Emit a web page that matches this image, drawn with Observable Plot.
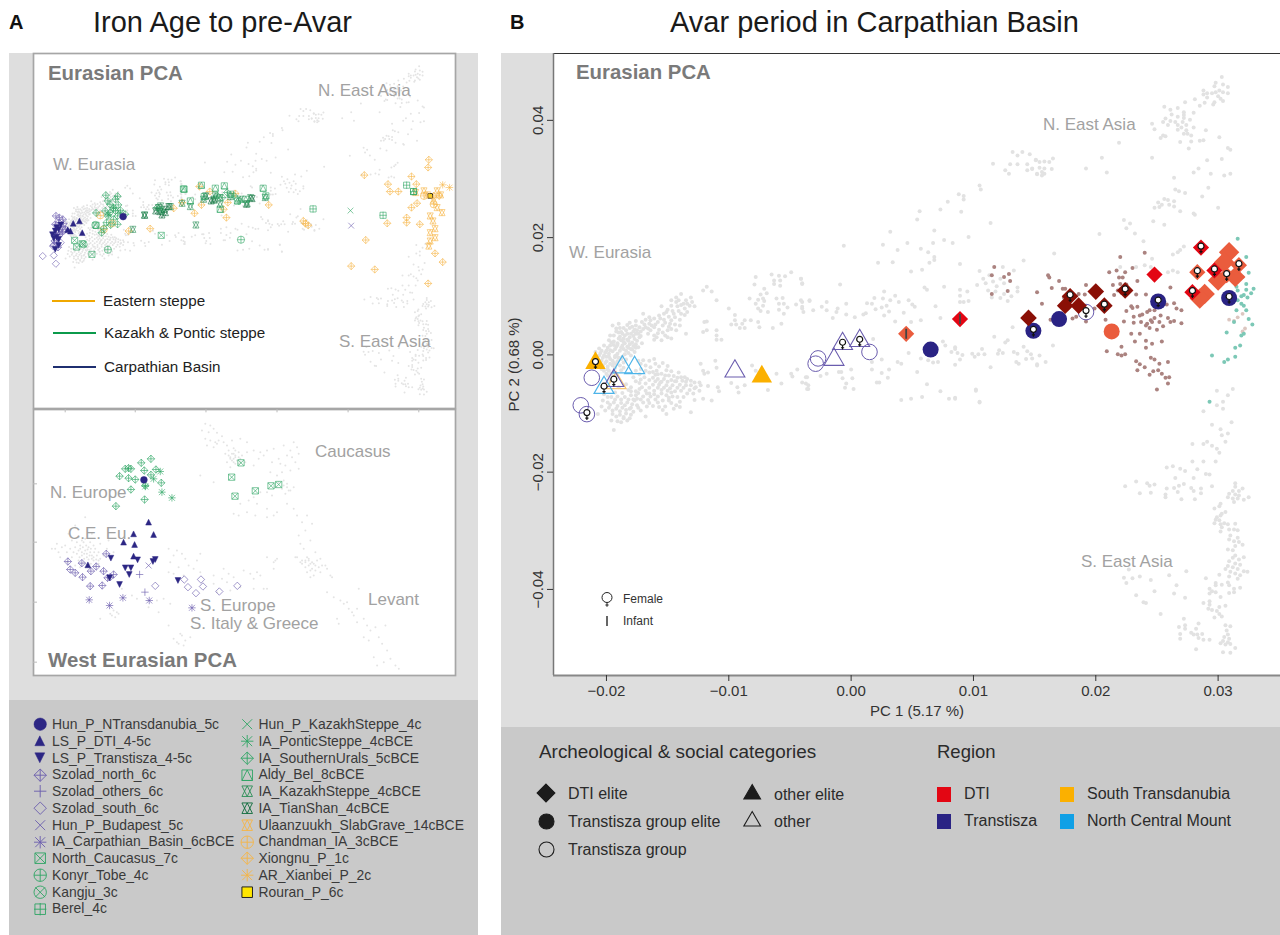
<!DOCTYPE html>
<html><head><meta charset="utf-8">
<script src="https://cdn.jsdelivr.net/npm/d3@7"></script>
<script src="https://cdn.jsdelivr.net/npm/@observablehq/plot@0.6"></script>
<style>
html,body{margin:0;padding:0;background:#fff;font-family:"Liberation Sans",Arial,sans-serif}
#page{position:relative;width:1280px;height:935px;overflow:hidden}
#page>div,#page>figure,#page>svg{position:absolute;margin:0}
.t{white-space:nowrap;line-height:1;transform:translateY(-50%)}
.reg{color:#a2a2a2;font-size:17px}
.bold{color:#7a7a7a;font-weight:bold;font-size:20.4px}
.lg{color:#3a3a3a;font-size:13.9px}
.lb{color:#2b2b2b;font-size:16px}
</style></head><body><div id="page"></div>
<script>
// All PCA values below are PC score x 10^4.
const refWestArm = [[-143,98],[-139,104],[-147,93],[-141,93],[-135,93],[-131,98],[-137,87],[-132,84],[-128,83],[-147,84],[-142,83],[-136,79],[-155,83],[-134,73],[-146,75],[-151,73],[-157,67],[-149,65],[-144,64],[-139,70],[-170,70],[-164,59],[-153,60],[-147,59],[-158,56],[-165,53],[-154,50],[-149,48],[-144,52],[-161,47],[-157,43],[-150,42],[-168,47],[-164,42],[-170,44],[-135,36],[-155,25],[-161,33],[-150,30],[-166,36],[-161,26],[-121,110],[-118,116],[-114,108],[-110,93],
[-195,50],[-190,53],[-189,46],[-184,42],[-188,39],[-181,46],[-177,43],[-173,47],[-194,33],[-189,31],[-185,33],[-180,36],[-174,36],[-198,25],[-194,23],[-188,25],[-183,26],[-177,27],[-173,30],[-202,16],[-197,16],[-192,14],[-187,16],[-181,18],[-176,18],[-204,7],[-200,7],[-195,6],[-189,7],[-184,7],[-179,9],[-176,12],[-206,-1],[-202,-1],[-198,-3],[-192,-1],[-187,-3],[-204,-10],[-200,-11],[-195,-10],[-191,-11],[-203,-18],[-199,-20],[-195,-18],[-202,-27],[-198,-27],[-194,-30],[-199,-35],[-195,-38],[-186,22],[-192,40],[-182,12],[-200,-3],[-193,-4],[-186,10],[-178,32],[-191,20],[-197,8]];
const refWestDense = [[-205,3],[-203,-5],[-201,4],[-199,12],[-198,2],[-197,-7],[-196,21],[-194,-14],[-193,10],[-193,-2],[-191,17],[-191,2],[-190,-5],[-190,28],[-188,12],[-188,-7],[-187,36],[-186,-13],[-186,28],[-185,1],[-185,20],[-184,-8],[-183,36],[-183,14],[-182,3],[-182,24],[-181,30],[-180,10],[-180,-1],[-179,21],[-178,40],[-178,15],[-177,5],[-176,36],[-175,24],[-175,42],[-174,13],[-172,32],[-172,40],[-171,20],[-197,33],[-192,45],[-186,46],[-183,51],[-179,48],[-176,50],[-201,-14],[-199,-25],[-197,-15],[-196,-32],[-193,-22],[-192,-16],[-200,-32],[-204,-24],[-189,-18],[-188,-26],[-186,-22],[-197,-43],[-192,-35],[-206,11],[-208,-8],[-209,5],[-194,17],[-190,38],[-181,55],[-171,56],[-176,58],
[-168,60],[-165,64],[-161,62],[-160,52],[-156,62],[-153,70],[-152,55],[-150,77],[-148,53],[-145,70],[-143,90],[-141,75],[-140,60],[-139,85],[-136,68],[-134,87],[-130,90],[-158,37],[-154,38],[-147,44],[-143,42],[-152,33],[-163,50],[-166,45],[-159,30],[-147,28],[-140,50],[-169,52]];
const refWestLobe = [[-174,-10],[-170,-9],[-165,-10],[-161,-7],[-168,-18],[-164,-21],[-172,-24],[-165,-30],[-159,-27],[-151,-26],[-155,-32],[-149,-35],[-169,-38],[-162,-39],[-158,-41],[-153,-41],[-147,-43],[-142,-39],[-138,-44],[-134,-41],[-173,-48],[-168,-49],[-162,-51],[-157,-51],[-151,-52],[-146,-52],[-140,-51],[-135,-52],[-173,-58],[-168,-61],[-161,-61],[-155,-60],[-150,-61],[-144,-62],[-139,-61],[-132,-60],[-176,-69],[-170,-71],[-164,-71],[-158,-71],[-151,-69],[-146,-71],[-170,-81],[-165,-82],[-158,-81],[-149,-78],[-143,-86],[-140,-89],[-154,-94],[-151,-101],[-131,-98],[-168,-105],[-196,-72],[-191,-71],[-185,-72],[-180,-69],[-199,-81],[-194,-81],[-188,-82],[-183,-81],[-179,-84],[-198,-90],[-192,-92],[-187,-90],[-181,-92],[-195,-101],[-189,-102],[-184,-100],[-180,-102],[-196,-112],[-188,-115],[-194,-128],[-207,-101],[-204,-88],[-202,-67],[-190,-55],[-182,-60],[-176,-45],[-160,-45],[-155,-46],[-165,-66],[-148,-57],[-143,-45],[-178,-76],[-174,-90],[-186,-108],
[-172,-15],[-168,-27],[-160,-15],[-157,-20],[-154,-14],[-150,-19],[-158,-33],[-162,-29],[-147,-28],[-145,-36],[-141,-30],[-152,-35],[-173,-33],[-176,-27],[-178,-38],[-172,-42],[-165,-43],[-160,-34],[-156,-47],[-150,-46],[-144,-45],[-139,-38],[-135,-46],[-131,-44],[-128,-57],[-171,-55],[-165,-56],[-158,-56],[-153,-56],[-147,-64],[-142,-56],[-137,-56],[-134,-66],[-129,-66],[-174,-65],[-167,-66],[-161,-67],[-155,-66],[-149,-73],[-142,-72],[-137,-72],[-172,-76],[-166,-77],[-160,-76],[-154,-78],[-147,-82],[-140,-80],[-167,-88],[-162,-87],[-157,-89],[-152,-88],[-145,-92],[-176,-62],[-180,-55],[-184,-50],[-172,-95],
[-193,-76],[-188,-76],[-182,-76],[-177,-78],[-197,-85],[-191,-87],[-185,-86],[-180,-90],[-175,-86],[-195,-95],[-189,-96],[-184,-94],[-178,-97],[-192,-105],[-186,-106],[-181,-108],[-193,-64],[-187,-65],[-180,-62],[-175,-75],[-199,-72],[-203,-78],[-201,-95],[-191,-113],[-183,-112]];
const refBridge = [[-136,-38],[-131,-52],[-128,-47],[-124,-47],[-127,-55],[-123,-52],[-121,-75],[-128,-77],[-114,-78],[-124,-61],[-117,-53],[-109,-55],[-108,-62],[-123,-15],[-121,-27],[-120,-32],[-117,-30],[-111,-10],[-110,-22],[-98,-48],[-93,-55],[-92,-64],[-87,-52],[-81,-18],[-78,-27],[-68,-60],[-61,-32],[-57,-49],[-49,-32],[-48,-37],[-44,-25],[-40,-47],[-35,-52],[-35,-58],[-36,-38],
[-120,56],[-118,57],[-121,39],[-118,42],[-110,42],[-110,33],[-110,26],[-106,26],[-100,79],[-95,68],[-95,59],[-98,52],[-94,52],[-87,59],[-89,53],[-91,46],[-87,46],[-82,59],[-76,56],[-75,47],[-64,46],[-57,53],
[-78,133],[-79,120],[-83,96],[-71,113],[-69,105],[-74,103],[-72,96],[-76,94],[-71,92],[-78,87],[-72,84],[-76,79],[-74,75],[-68,73],[-61,96],[-56,97],[-59,87],[-55,87],[-59,77],[-55,70],[-52,81],[-65,137],[-63,127],[-63,121],[-59,135],[-58,127],[-58,118],[-54,134],[-49,141],[-41,130],[-40,122],[-45,86],[-40,79],[-41,93],[-34,92]];
const refCentral = [[132,346],[136,340],[140,346],[146,342],[151,332],[130,325],[136,325],[144,325],[148,318],[144,315],[126,315],[129,309],[152,309],[116,326],[105,289],[106,282],[88,274],[92,271],[92,265],[79,261],[73,248],[56,245],[54,231],[90,244],[114,225],[32,210],[68,212],[96,201],[76,196],[46,191],[67,191],[83,191],[26,188],[-6,186],[38,179],[57,181],[63,175],[68,167],[68,162],[22,157],[34,158],[64,157],[89,155],[141,161],[58,145],[49,142],[-9,120],[-40,121],[-41,130],
[60,115],[62,111],[76,116],[89,111],[95,108],[89,101],[103,119],[105,143],[124,150],[133,144],[108,130],[110,122],[113,136],[116,125],[119,117],[122,130],[125,122],[112,110],[118,108],[125,104],[115,98],[122,97],[128,92],[131,100],[136,108],[136,115],[89,90],[92,90],[96,92],
[27,108],[19,97],[36,101],[26,96],[32,93],[13,88],[17,87],[29,84],[39,90],[47,93],[50,86],[52,82],[25,81],[20,78],[12,71],[10,69],[31,74],[27,67],[43,72],[57,59],[49,56],[73,63],[69,83],[36,57],[-40,90],[-34,93],[-20,90],[-4,87],[-24,82],[-20,76],[-31,76],[-11,79],[-12,73],[-39,73],[-40,82],[-15,63],[-4,69],[3,64],
[18,27],[25,-8],[38,-12],[41,-15],[17,-12],[31,-25],[17,-25],[25,-31],[0,-25],[-10,-29],[-8,-29],[-20,-32],[-25,-36],[-37,-38],[-7,-40],[1,-40],[30,-39],[21,-47],[23,-47],[54,-29],[47,3],[75,23],[77,16],[85,13],[85,10],[82,5],[87,3],[91,0],[89,-8],[85,-17],[63,-9],[67,-13],[71,-12],[57,-6],[99,2],[101,-3],[104,1],[107,10],[109,1],[114,-21],[117,31],[128,25],[126,21],[121,8],[124,3],[120,2],[132,47],[133,5],[136,2],[135,-12],[137,-15],[141,14],[144,6],[147,1],[143,-7],[152,-16],[-37,-49],[-36,-58],[-4,-49],[-5,-56],[2,-58],[62,-50],[73,-62],[102,-59],[58,-72],[49,-75],[41,-77],[80,-75],[85,-73],[105,-80],[154,-1],[159,-12],[165,16],[148,-6],[152,-18],[102,-61],[105,-81],[85,-75],[233,150],[240,153],[245,150],[259,141],[263,144],[267,141],[220,150]];
const refNorthEast = [[303,474],[298,464],[297,458],[304,461],[308,457],[288,451],[291,446],[295,446],[298,448],[301,451],[304,448],[308,446],[288,444],[291,439],[300,441],[302,437],[304,433],[281,436],[289,430],[297,431],[296,427],[285,425],[273,431],[267,421],[261,418],[256,423],[280,413],[272,414],[272,409],[262,410],[267,406],[272,404],[277,401],[257,403],[255,397],[261,399],[265,397],[271,397],[259,392],[267,392],[274,392],[246,394],[248,385],[267,384],[270,388],[274,383],[280,388],[278,374],[272,377],[275,377],[255,374],[253,370],[257,373],[290,383],[301,371],[269,363],[278,364],[285,365],[288,366],[276,352],[308,353],[310,350],[219,362],[246,336],[205,336],[291,332],[303,334],[192,318],[209,311],[284,318],[280,311],[294,309],[305,306],[310,309],[264,302],[292,285],[265,282],[268,279],[273,276],[287,270],[256,266],[259,264],[251,260],[264,262],[254,256],[260,256],[248,251],[252,252],[264,253],[269,245],[280,241],[281,239],[300,251],[223,230],[228,224],[225,216],[247,228],[256,222],[232,207],[203,206],[239,194],[166,173],[246,164],[263,171],[267,175],[269,179],[272,185],[151,333],[154,329],[158,330],[162,329],[165,335],[148,317],[154,319],[158,318],[164,317],[156,312],[152,308],[156,306],[158,309],[299,-61],[308,-69],[312,-58],[304,-80],[304,-92]];
const refSouthEast = [[288,-96],[299,-86],[311,-115],[295,-119],[302,-127],[308,-134],[303,-137],[306,-148],[279,-152],[288,-152],[291,-148],[295,-155],[299,-160],[301,-167],[279,-182],[288,-182],[298,-182],[258,-192],[263,-190],[269,-194],[273,-198],[283,-195],[290,-203],[293,-204],[265,-210],[280,-210],[224,-224],[233,-216],[242,-219],[244,-223],[248,-221],[236,-236],[245,-235],[268,-223],[272,-220],[264,-227],[258,-228],[257,-238],[257,-243],[267,-234],[270,-246],[278,-227],[280,-232],[286,-228],[286,-236],[295,-224],[281,-246],[314,-219],[314,-225],[320,-228],[317,-232],[312,-232],[309,-237],[314,-238],[317,-240],[308,-243],[312,-245],[316,-245],[313,-251],[321,-247],[325,-243],[302,-254],[301,-258],[297,-262],[303,-271],[299,-277],[302,-274],[298,-281],[301,-282],[306,-268],[297,-287],[302,-289],[305,-287],[308,-289],[303,-294],[302,-301],[314,-288],[309,-298],[313,-298],[316,-299],[310,-308],[316,-312],[309,-315],[313,-318],[317,-319],[320,-324],[314,-326],[308,-332],[312,-333],[314,-342],[321,-345],[312,-346],[317,-349],[309,-352],[314,-356],[318,-358],[308,-360],[312,-362],[316,-365],[306,-365],[321,-369],[324,-370],[310,-370],[314,-373],[318,-376],[309,-378],[316,-382],[301,-375],[308,-388],[290,-381],[298,-389],[303,-392],[298,-393],[309,-393],[313,-399],[318,-397],[313,-405],[309,-406],[293,-399],[295,-403],[298,-405],[293,-407],[302,-413],[293,-420],[293,-426],[288,-423],[306,-428],[301,-430],[292,-433],[295,-435],[299,-437],[301,-442],[297,-448],[303,-446],[272,-450],[284,-458],[282,-467],[268,-464],[273,-461],[273,-467],[269,-476],[278,-474],[280,-477],[283,-477],[287,-476],[269,-484],[284,-483],[288,-486],[293,-486],[282,-502],[306,-461],[310,-463],[307,-470],[308,-477],[305,-481],[309,-484],[304,-488],[308,-490],[302,-492],[306,-494],[310,-493],[314,-500],[304,-507],[310,-508],[227,-366],[223,-380],[230,-381],[236,-378],[245,-384],[225,-389],[260,-376],[274,-369],[266,-393],[248,-403],[264,-407],[233,-410],[273,-414],[239,-422],[241,-423],[253,-442]];
const brownRef = [[117,150],[125,133],[115,136],[129,138],[130,126],[128,109],[115,104],[161,136],[162,132],[170,126],[164,114],[152,107],[156,87],[173,113],[175,113],[192,119],[186,104],[191,103],[174,98],[163,60],[192,57],[181,62],[184,65],[199,79],[208,60],[211,141],[217,144],[219,132],[222,132],[224,141],[230,148],[234,126],[214,119],[220,121],[225,120],[218,110],[221,106],[215,102],[233,103],[241,103],[240,174],[220,167],[261,115],[225,75],[229,83],[230,80],[234,82],[231,65],[236,67],[238,69],[242,73],[244,76],[248,76],[253,67],[259,63],[264,88],[266,79],[270,76],[258,86],[231,55],[237,56],[242,53],[245,59],[248,63],[246,56],[252,56],[255,49],[261,56],[264,58],[270,54],[244,46],[250,43],[223,57],[241,50],[229,36],[236,36],[232,23],[241,24],[246,19],[254,23],[241,12],[221,14],[209,6],[218,1],[221,-1],[224,1],[233,-11],[236,-16],[240,-21],[234,-26],[245,-5],[248,-8],[259,-12],[252,-15],[247,-28],[244,-34],[251,-26],[254,-32],[257,-39],[260,-38],[259,-49],[250,-59]];
const paleBrownRef = [[309,60],[313,58],[320,70],[316,64],[320,40],[322,45]];
const tealRef = [[316,198],[323,167],[325,140],[320,133],[316,130],[323,121],[315,116],[329,113],[323,111],[316,110],[327,105],[321,102],[319,100],[324,98],[316,93],[319,87],[321,84],[315,76],[323,76],[325,61],[313,56],[328,52],[321,36],[319,33],[307,38],[314,12],[318,16],[295,-1],[314,-3],[308,-8],[305,-12],[293,-80]];

// Panel B individuals, by archaeological category and region
const dtiRed = [[89,61],[248,137],[286,183],[279,107],[297,144]];
const dtiDark = [[145,63],[179,100],[175,84],[186,84],[200,108],[207,84],[224,110]];
const dtiOrange = [[45,36],[283,141],[317,153],[307,136]];
const dtiOrangeLarge = [[309,175],[305,158],[300,127],[289,104],[285,96],[314,133]];
const tiszaEliteNavy = [[65,9],[170,61],[149,41],[251,91],[309,97]];
const tiszaEliteOrange = [[213,40]];
const tiszaGroup = [[-212,-39],[-221,-86],[-216,-101],[-27,-6],[-29,-15],[15,5],[192,73]];
const otherPurple = [[-194,-44],[-95,-28],[-14,-8],[-7,19],[7,24]];
const otherBlue = [[-187,-21],[-177,-22],[-202,-56]];
const otherOrangeOpen = [[-192,-48]];
const otherEliteOrange = [[-209,-14],[-73,-37]];
const females = [[-209,-14],[-202,-56],[-194,-44],[-216,-101],[-7,19],[7,24],[149,41],[179,100],[192,73],[207,84],[224,110],[251,91],[286,183],[279,107],[283,141],[297,144],[307,136],[317,153],[309,97]];
const infants = [[45,36],[89,61]];

// Panel A, Eurasian PCA (top), PC score x 10^4
const hunNT_top = [[-124,24]];
const lsDTI_top = [[-196,4],[-187,11],[-183,-24],[-200,-19],[-204,-15]];
const lsTisza_top = [[-222,-19],[-217,-14],[-220,-37],[-224,-41],[-217,-44],[-222,-74],[-217,-62],[-220,-9],[-214,-1],[-226,-30]];
const szNorth_top = [[-221,26],[-216,21],[-211,16],[-217,6],[-210,3],[-222,1],[-212,-7],[-207,-14],[-220,-24],[-215,-29],[-223,-49],[-220,-54],[-225,-64],[-218,-68]];
const szOthers_top = [[-212,-25]];
const szSouth_top = [[-240,-94],[-224,-92],[-221,-117],[-214,-54],[-224,-61]];
const hunBud_top = [[205,-3]];
const iaCarp_top = [[-220,-29],[-212,-20]];
const nCauc_top = [[-194,-47],[-191,-67],[-183,-57],[-169,-89],[-69,-32],[-37,107]];
const konyr_top = [[-146,-75],[46,-45]];
const kangju_top = [[-164,-1],[-181,-59]];
const berel_top = [[150,47],[251,28],[285,118],[295,99]];
const hunKaz_top = [[204,42]];
const pontic_top = [[-138,51],[-128,35],[-145,30]];
const sUrals_top = [[-149,88],[-132,85],[-135,76],[-146,71],[-143,61],[-131,59],[-138,49],[-150,41],[-143,36],[-135,41],[-128,43],[-121,31],[-163,35],[-146,26],[-132,26],[-138,16],[-142,-1],[-132,1],[-148,6],[-155,-24],[-152,-11],[12,86],[19,81],[26,96],[36,86],[43,71],[-75,51],[-68,41]];
const aldy_top = [[-36,106],[-11,118],[-27,71],[-7,84],[9,109],[22,116],[31,91],[16,46],[78,109],[82,86],[41,71],[53,76],[-163,-2],[295,99]];
const iaKaz_top = [[-93,29],[-110,-14],[-56,54],[-19,-1],[9,86],[16,81],[31,84],[55,63],[-8,76],[81,81],[-27,54],[-39,64],[-70,56],[60,81],[45,76],[16,61],[7,73]];
const tian_top = [[-77,41],[-71,39],[-65,46],[-63,36],[-68,29],[-73,51],[-93,28],[-58,54],[3,71],[7,76],[-5,86],[54,61],[62,78]];
const ulaan_top = [[319,26],[323,11],[326,-12],[319,-24],[326,-39],[319,-49],[317,-64],[336,36],[329,51],[298,96],[310,101],[329,101],[324,73],[315,89],[334,89]];
const chand_top = [[310,86],[324,61],[-157,28],[-140,4],[-152,-14]];
const xiong_top = [[317,194],[316,171],[224,148],[292,144],[258,121],[261,99],[273,99],[299,121],[292,51],[300,64],[285,21],[285,6],[304,1],[257,4],[226,-46],[205,-124],[239,-134],[326,-86],[337,-112],[316,-176],[136,11],[139,3],[143,-2],[86,59],[25,21],[-21,34],[-85,-12],[-116,-19],[-11,59],[1,99],[21,46],[38,93],[27,66],[-51,49],[-39,66],[-14,114],[324,86],[332,86]];
const xianbei_top = [[337,119],[347,111]];
const rouran_top = [[319,86]];

// Panel A, West Eurasian PCA (bottom): this panel has no numeric axis, values are in arbitrary PC units
const hunNT_west = [[431,577]];
const lsDTI_west = [[445,450],[400,415],[460,413],[370,390],[403,383],[400,348],[263,322]];
const lsTisza_west = [[332,342],[412,337],[465,338],[458,332],[375,313],[392,313],[387,293],[358,263],[533,275],[328,283]];
const szNorth_west = [[203,332],[210,308],[225,298],[245,327],[247,285],[272,303],[288,317],[310,303],[318,355],[270,258],[306,260],[340,293],[330,285],[322,283]];
const szOthers_west = [[418,293],[434,240]];
const szSouth_west = [[552,278],[602,278],[563,255],[608,257],[587,237],[657,242],[711,259],[465,259]];
const hunBud_west = [[445,320]];
const iaCarp_west = [[267,217],[328,200],[368,223],[447,215],[575,193]];
const nCauc_west = [[722,628],[694,585],[812,559],[835,563],[765,544],[704,528]];
const pontic_west = [[480,602],[460,580],[485,540],[515,523],[435,557]];
const sUrals_west = [[452,640],[423,628],[375,610],[385,612],[392,610],[432,605],[467,608],[358,588],[385,582],[405,578],[452,592],[483,568],[435,560],[392,548],[433,518],[347,498]];
const westGreyNorth = [[615,745],[630,740],[640,730],[605,725],[625,720],[650,718],[665,708],[615,700],[630,695],[645,690],[620,680],[655,695],[640,675],[650,685],[670,690],[680,680],[695,695],[720,700],[740,690],[700,672],[685,665],[705,665],[715,660],[695,655],[675,655],[725,650],[690,645],[705,645],[720,640],[735,630],[680,630],[700,630],[715,625],[690,615],[740,660],[760,665],[780,660],[800,665],[820,670],[850,680],[880,690],[890,675],[870,665],[895,655],[860,650],[875,645],[835,640],[815,630],[790,650],[775,640],[760,620],[840,625],[855,620],[885,630],[895,610],[870,605],[810,600],[830,590],[845,600],[850,575],[835,570],[860,565],[880,555],[865,545],[825,555],[800,540],[815,530],[780,540],[760,525],[745,515],[770,505],[800,490],[830,480],[720,505],[700,475],[715,470],[740,480],[765,470],[800,465],[820,470],[860,505],[880,490],[890,470],[905,450],[920,470],[935,445],[915,425],[895,410],[900,385],[910,370],[930,395],[945,360],[925,340],[945,320],[960,340],[975,320],[990,290],[960,300],[940,290],[915,335],[900,330],[925,320],[935,310],[920,300],[945,305],[930,285],[885,345],[800,345],[825,335],[820,310],[770,300],[750,295],[640,570],[600,590],
[690,640],[700,640],[710,635],[695,635],[705,650],[715,645],[700,655],[685,650],[720,630],[705,625],[850,560],[860,555],[870,545],[855,535],[845,550],[905,325],[915,330],[925,335],[930,325],[940,325],[955,315],[915,315],[930,305]];
const westGreyCentre = [[155,370],[170,385],[185,375],[200,360],[215,395],[235,405],[250,390],[265,375],[225,375],[240,370],[255,365],[270,360],[285,370],[230,355],[245,350],[260,345],[275,340],[290,350],[235,335],[250,330],[265,325],[280,335],[300,340],[215,345],[200,330],[180,345],[255,315],[270,310],[285,320],[295,325],[310,350],[240,315],[225,320],[260,355],[275,350],[300,385],[320,370],[340,360],[225,440],[255,465],[275,415],[205,415],[325,395],[365,250],[395,230],[350,180],[335,170],[345,165],[355,175],[340,185],[330,175],[300,160],[410,220],[445,195],[470,215],[490,220],[510,205],[475,180],[505,140],[520,100],[530,90],[545,110],[555,95],[570,105],[550,80],[540,115],[535,85],[505,370],[520,350],[530,365],[545,355],[555,340],[510,330],[535,315],[565,320],[580,310],[505,300],[520,295],[590,335],[600,355],[550,290],[600,300],[640,290],[670,310],[685,295],[665,280],[680,270],[640,265],[700,285],[730,305],[760,280],[780,290],[800,250],[820,330],[830,340],[650,240],[690,245],[720,255],[760,250],[790,250],
[240,380],[248,375],[258,380],[262,368],[272,370],[280,380],[235,365],[245,360],[252,355],[268,350],[282,360],[295,360],[238,345],[252,340],[265,338],[280,345],[295,335],[242,325],[258,322],[272,325],[288,338],[230,390],[245,395],[270,390],[255,400],[220,360],[210,370],[195,380],[175,360],[165,370]];
const westGreyLevant = [[890,345],[905,335],[920,345],[935,330],[950,335],[965,320],[980,310],[995,285],[980,240],[1000,225],[1020,215],[1030,205],[1040,210],[1045,190],[1055,180],[1070,190],[1075,250],[1060,170],[1070,150],[1090,160],[1100,140],[1110,125],[1125,135],[1135,105],[1155,140],[1145,85],[1160,65],[1170,40],[1185,20],[1150,30],[1120,45],[1130,20],[1195,10],[1015,145],[1010,160],[1090,105],[1105,95]];
const westFrameTicksX = [195,405,617,830,1043,1255];
const westFrameTicksY = [565,390,210,30];

// Tick labels
const pc1Ticks = [-0.02,-0.01,0,0.01,0.02,0.03];
const pc2Ticks = [-0.04,-0.02,0,0.02,0.04];

const colors = {navy:"#2c2684",purple:"#6a5cae",green:"#2fa564",dark:"#0d6b3b",kaz:"#2b8f57",orange:"#f6b445",
 red:"#e30613",dtiDark:"#8a0f06",dtiOrange:"#ea5c3d",tisza:"#2a2384",amber:"#fbb000",sky:"#4db4e9"};

// Custom glyphs
const sz = s => Math.sqrt(s/Math.PI);
const P = {
 diamond:(c,r)=>{c.moveTo(0,-r);c.lineTo(r,0);c.lineTo(0,r);c.lineTo(-r,0);c.closePath();},
 plus:(c,r)=>{c.moveTo(-r,0);c.lineTo(r,0);c.moveTo(0,-r);c.lineTo(0,r);},
 times:(c,r)=>{const a=r*.8;c.moveTo(-a,-a);c.lineTo(a,a);c.moveTo(-a,a);c.lineTo(a,-a);},
 square:(c,r)=>{const a=r*.85;c.moveTo(-a,-a);c.lineTo(a,-a);c.lineTo(a,a);c.lineTo(-a,a);c.closePath();},
 circle:(c,r)=>{c.moveTo(r,0);c.arc(0,0,r,0,2*Math.PI);},
 triUp:(c,r)=>{const a=r*.85;c.moveTo(0,-a);c.lineTo(a,a);c.lineTo(-a,a);c.closePath();},
 triDown:(c,r)=>{const a=r*.85;c.moveTo(0,a);c.lineTo(a,-a);c.lineTo(-a,-a);c.closePath();}
};
const glyph = (...parts) => ({draw(c,s){const r=sz(s);parts.forEach(p=>P[p](c,r));}});
const G = {
 circle:glyph("circle"),up:glyph("triUp"),down:glyph("triDown"),dPlus:glyph("diamond","plus"),plus:glyph("plus"),dia:glyph("diamond"),
 times:glyph("times"),star:glyph("plus","times"),sqX:glyph("square","times"),cPlus:glyph("circle","plus"),cX:glyph("circle","times"),
 sqPlus:glyph("square","plus"),sqTri:glyph("square","triUp"),david:glyph("triUp","triDown"),square:glyph("square")
};
const female = {draw(c,s){const r=sz(s);c.moveTo(r,-1.5);c.arc(0,-1.5,r,0,2*Math.PI);c.moveTo(0,r-1.5);c.lineTo(0,r+2.8);c.moveTo(-1.6,r+1);c.lineTo(1.6,r+1);}};
const infantBar = {draw(c,s){const r=sz(s);c.moveTo(0,-r);c.lineTo(0,r);}};

// Panel A series table (legend order)
const seriesA = [
 {name:"Hun_P_NTransdanubia_5c",top:hunNT_top,west:hunNT_west,g:G.circle,c:colors.navy,fill:true},
 {name:"LS_P_DTI_4-5c",top:lsDTI_top,west:lsDTI_west,g:G.up,c:colors.navy,fill:true},
 {name:"LS_P_Transtisza_4-5c",top:lsTisza_top,west:lsTisza_west,g:G.down,c:colors.navy,fill:true},
 {name:"Szolad_north_6c",top:szNorth_top,west:szNorth_west,g:G.dPlus,c:colors.purple},
 {name:"Szolad_others_6c",top:szOthers_top,west:szOthers_west,g:G.plus,c:colors.purple},
 {name:"Szolad_south_6c",top:szSouth_top,west:szSouth_west,g:G.dia,c:colors.purple},
 {name:"Hun_P_Budapest_5c",top:hunBud_top,west:hunBud_west,g:G.times,c:colors.purple},
 {name:"IA_Carpathian_Basin_6cBCE",top:iaCarp_top,west:iaCarp_west,g:G.star,c:colors.purple},
 {name:"North_Caucasus_7c",top:nCauc_top,west:nCauc_west,g:G.sqX,c:colors.green},
 {name:"Konyr_Tobe_4c",top:konyr_top,west:[],g:G.cPlus,c:colors.green},
 {name:"Kangju_3c",top:kangju_top,west:[],g:G.cX,c:colors.green},
 {name:"Berel_4c",top:berel_top,west:[],g:G.sqPlus,c:colors.green},
 {name:"Hun_P_KazakhSteppe_4c",top:hunKaz_top,west:[],g:G.times,c:colors.green},
 {name:"IA_PonticSteppe_4cBCE",top:pontic_top,west:pontic_west,g:G.star,c:colors.green},
 {name:"IA_SouthernUrals_5cBCE",top:sUrals_top,west:sUrals_west,g:G.dPlus,c:colors.green},
 {name:"Aldy_Bel_8cBCE",top:aldy_top,west:[],g:G.sqTri,c:colors.green},
 {name:"IA_KazakhSteppe_4cBCE",top:iaKaz_top,west:[],g:G.david,c:colors.kaz},
 {name:"IA_TianShan_4cBCE",top:tian_top,west:[],g:G.david,c:colors.dark},
 {name:"Ulaanzuukh_SlabGrave_14cBCE",top:ulaan_top,west:[],g:G.david,c:colors.orange},
 {name:"Chandman_IA_3cBCE",top:chand_top,west:[],g:G.cPlus,c:colors.orange},
 {name:"Xiongnu_P_1c",top:xiong_top,west:[],g:G.dPlus,c:colors.orange},
 {name:"AR_Xianbei_P_2c",top:xianbei_top,west:[],g:G.star,c:colors.orange},
 {name:"Rouran_P_6c",top:rouran_top,west:[],g:G.square,c:"#222",fillC:"#ffe600"}
];

const pcx = d => d[0]/1e4, pcy = d => d[1]/1e4;
const refAll = [...refWestArm,...refWestDense,...refWestLobe,...refBridge,...refCentral,...refNorthEast,...refSouthEast];
const fontStyle = {background:"transparent",fontFamily:"'Liberation Sans',Arial,sans-serif",overflow:"visible"};
const page = document.getElementById("page");
function box(x,y,w,h,bg){const d=document.createElement("div");d.style.cssText=`left:${x}px;top:${y}px;width:${w}px;height:${h}px;background:${bg}`;page.appendChild(d);return d;}
function label(text,x,y,cls,extra=""){const d=document.createElement("div");d.className="t "+cls;d.textContent=text;d.style.cssText=`left:${x}px;top:${y}px;${extra}`;page.appendChild(d);return d;}
function place(plot,x,y){plot.style.left=x+"px";plot.style.top=y+"px";plot.style.position="absolute";page.appendChild(plot);}
function icon(g,x,y,r,fill,stroke,sw=1){
  const p=d3.path();g.draw(p,Math.PI*r*r);
  const s=d3.create("svg").attr("width",2*r+6).attr("height",2*r+10).style("left",(x-r-3)+"px").style("top",(y-r-3)+"px").style("overflow","visible");
  s.append("path").attr("transform",`translate(${r+3},${r+3})`).attr("d",p.toString()).attr("fill",fill).attr("stroke",stroke).attr("stroke-width",sw);
  page.appendChild(s.node());
}
const mkDots=(arr,g,r,c,fillC,sw=.75,op=1)=>Plot.dot(arr,{x:pcx,y:pcy,symbol:g,r,fill:fillC||"none",stroke:c,strokeWidth:sw,opacity:op});

// backgrounds
box(9,53,469,647,"#dedede");box(9,700,469,235,"#c9c9c9");
box(501,53,779,674,"#dedede");box(501,727,779,208,"#c9c9c9");

// Panel A top
place(Plot.plot({width:422,height:355,margin:0,style:fontStyle,
 x:{domain:[-0.02533,0.03555],axis:null},y:{domain:[-0.05498,0.05118],axis:null},
 marks:[Plot.frame({fill:"white",stroke:"#a6a6a6",strokeWidth:1.7}),
  Plot.dot(refAll,{x:pcx,y:pcy,r:1,fill:"#e4e4e4"}),
  ...seriesA.slice().reverse().map(s=>s.fill?Plot.dot(s.top,{x:pcx,y:pcy,symbol:s.g,r:3.4,fill:s.c,stroke:s.c,strokeWidth:.5})
    :mkDots(s.top,s.g,s.fillC?2.7:3.6,s.c,s.fillC,s.fillC?1:.7,s.fillC?1:.85))
 ]}),33,53);

// Panel A bottom
const wx=d=>d[0], wy=d=>d[1];
place(Plot.plot({width:422,height:266,margin:0,style:fontStyle,
 x:{domain:[100,1365],axis:null},y:{domain:[-10,788],axis:null},
 marks:[Plot.frame({fill:"white",stroke:"#a6a6a6",strokeWidth:1.7}),
  Plot.ruleX(westFrameTicksX,{y1:788,y2:778,stroke:"#bbb"}),
  Plot.ruleY(westFrameTicksY,{x1:100,x2:112,stroke:"#bbb"}),
  Plot.dot([...westGreyNorth,...westGreyCentre,...westGreyLevant],{x:wx,y:wy,r:1,fill:"#e4e4e4"}),
  ...seriesA.slice().reverse().filter(s=>s.west.length).map(s=>Plot.dot(s.west,{x:wx,y:wy,symbol:s.g,r:s.fill?3.4:3.7,fill:s.fill?s.c:"none",stroke:s.c,strokeWidth:s.fill?.5:.7,opacity:s.fill?1:.9}))
 ]}),33,409);

// Panel B
const sig = d3.format(".2f");
place(Plot.plot({width:779,height:682,marginLeft:52,marginRight:0,marginTop:8,marginBottom:52,style:{...fontStyle,fontSize:"13px"},
 x:{domain:[-0.02433,0.0351]},y:{domain:[-0.05468,0.0514]},
 marks:[
  Plot.frame({fill:"white",stroke:"none"}),
  Plot.ruleY([0.0514],{stroke:"#333",strokeWidth:1}),
  Plot.ruleX([-0.02433],{stroke:"#777",strokeWidth:1.5}),
  Plot.ruleY([-0.05468],{stroke:"#888",strokeWidth:2}),
  Plot.axisX({ticks:pc1Ticks,tickFormat:sig,tickSize:6,tickPadding:4,fontSize:15,color:"#333",label:"PC 1 (5.17 %)",labelAnchor:"center",labelArrow:"none",labelOffset:40}),
  Plot.axisY({ticks:pc2Ticks,tickFormat:sig,tickSize:6,tickPadding:5,tickRotate:-90,textAnchor:"middle",fontSize:15,color:"#333",label:"PC 2 (0.68 %)",labelAnchor:"center",labelArrow:"none",labelOffset:45}),
  Plot.dot(refAll,{x:pcx,y:pcy,r:2,fill:"#e2e2e2"}),
  Plot.dot(paleBrownRef,{x:pcx,y:pcy,r:1.9,fill:"#dcc6c0"}),
  Plot.dot(brownRef,{x:pcx,y:pcy,r:2,fill:"#ab8380"}),
  Plot.dot(tealRef,{x:pcx,y:pcy,r:2,fill:"#7cc8b6"}),
  Plot.dot(tiszaGroup,{x:pcx,y:pcy,r:7.8,fill:"white",fillOpacity:.01,stroke:colors.purple,strokeWidth:1}),
  Plot.dot(otherOrangeOpen,{x:pcx,y:pcy,symbol:"triangle",r:7.3,fill:"none",stroke:"#f7c778",strokeWidth:1.2}),
  Plot.dot(otherBlue,{x:pcx,y:pcy,symbol:"triangle",r:7.4,fill:"none",stroke:colors.sky,strokeWidth:1.2}),
  Plot.dot(otherPurple,{x:pcx,y:pcy,symbol:"triangle",r:7.4,fill:"none",stroke:colors.purple,strokeWidth:1.1}),
  Plot.dot(otherEliteOrange,{x:pcx,y:pcy,symbol:"triangle",r:7.6,fill:colors.amber}),
  Plot.dot(tiszaEliteNavy,{x:pcx,y:pcy,r:8,fill:colors.tisza}),
  Plot.dot(tiszaEliteOrange,{x:pcx,y:pcy,r:8,fill:colors.dtiOrange}),
  Plot.dot(dtiOrangeLarge,{x:pcx,y:pcy,symbol:"diamond2",r:9.2,fill:colors.dtiOrange}),
  Plot.dot(dtiOrange,{x:pcx,y:pcy,symbol:"diamond2",r:7.3,fill:colors.dtiOrange}),
  Plot.dot(dtiDark,{x:pcx,y:pcy,symbol:"diamond2",r:7.5,fill:colors.dtiDark}),
  Plot.dot(dtiRed,{x:pcx,y:pcy,symbol:"diamond2",r:7.3,fill:colors.red}),
  Plot.dot(females,{x:pcx,y:pcy,symbol:female,r:3,fill:"white",stroke:"#111",strokeWidth:1.2}),
  Plot.dot(infants,{x:pcx,y:pcy,symbol:infantBar,r:5,fill:"none",stroke:"#444",strokeWidth:1.8})
 ]}),501,45);

// Titles
label("A",9,22,"","font-weight:bold;font-size:20px;color:#111");
label("Iron Age to pre-Avar",93,22,"","font-size:29px;color:#1a1a1a");
label("B",510,22,"","font-weight:bold;font-size:20px;color:#111");
label("Avar period in Carpathian Basin",670,22,"","font-size:29px;color:#1a1a1a");

// Labels panel A
label("Eurasian PCA",48,73,"bold");
label("N. East Asia",318,90,"reg");
label("W. Eurasia",53,164,"reg");
label("S. East Asia",339,341,"reg");
label("Caucasus",315,451,"reg");
label("N. Europe",50,492,"reg");
label("C.E. Eu.",68,533,"reg");
label("S. Europe",200,605,"reg");
label("S. Italy & Greece",190,623,"reg");
label("Levant",368,599,"reg");
label("West Eurasian PCA",48,660,"bold");

// Steppe legend
const steppe=[["Eastern steppe","#f0a800",300.5,52],["Kazakh & Pontic steppe","#0b9a4b",333,53],["Carpathian Basin","#1f2f70",367,53]];
steppe.forEach(([t,c,y,x])=>{box(x,y-1,43,2.2,c);label(t,x+51,y,"","font-size:15.2px;color:#222");});

// Series legend
seriesA.forEach((s,i)=>{
  const col=i<12?0:1,row=col?i-12:i,y=725+row*16.75;
  const sx=col?247:40,tx=col?258.5:52;
  if(s.fillC) icon(s.g,sx,y-.5,6.2,s.fillC,"#222",1);
  else icon(s.g,sx,y-.5,s.g===G.up||s.g===G.down?5.8:6.2,s.fill?s.c:"none",s.c,s.fill?.5:.9);
  label(s.name,tx,y,"lg");
});

// Labels panel B
label("Eurasian PCA",576,72,"bold");
label("N. East Asia",1043,124,"reg");
label("W. Eurasia",569,252,"reg");
label("S. East Asia",1081,561,"reg");
icon(female,607,599,5,"none","#222",1);
label("Female",623,598.5,"","font-size:12px;color:#333");
icon(infantBar,607,621,5,"none","#333",1.5);
label("Infant",623,621,"","font-size:12px;color:#333");

// Category legend
label("Archeological & social categories",539,752,"","font-size:18.9px;color:#2b2b2b");
label("Region",937,752,"","font-size:18.5px;color:#2b2b2b");
const catLegend=[["DTI elite","diamond",546,793,568,"#1c1c1c"],["Transtisza group elite","solid",546,821,568,"#1c1c1c"],["Transtisza group","open",546,849,568,"none"],["other elite","tri",752,794,774,"#1c1c1c"],["other","tri",752,821,774,"none"]];
catLegend.forEach(([t,k,x,y,tx,f])=>{
  const sym=k==="diamond"?d3.symbolDiamond2:k==="tri"?d3.symbolTriangle:d3.symbolCircle;
  const r=k==="diamond"?8:k==="tri"?6.2:7.5;
  icon(sym,x,y,r,f,"#1c1c1c",1.1);
  label(t,tx,y+.5,"lb");
});
const regions=[["DTI",colors.red,937,794,964],["Transtisza",colors.tisza,937,821,964],["South Transdanubia",colors.amber,1060,794,1087],["North Central Mount","#10a0e6",1060,821,1087]];
regions.forEach(([t,c,x,y,tx])=>{box(x,y-7.5,14,15,c);label(t,tx,y,"lb");});
</script></body></html>
